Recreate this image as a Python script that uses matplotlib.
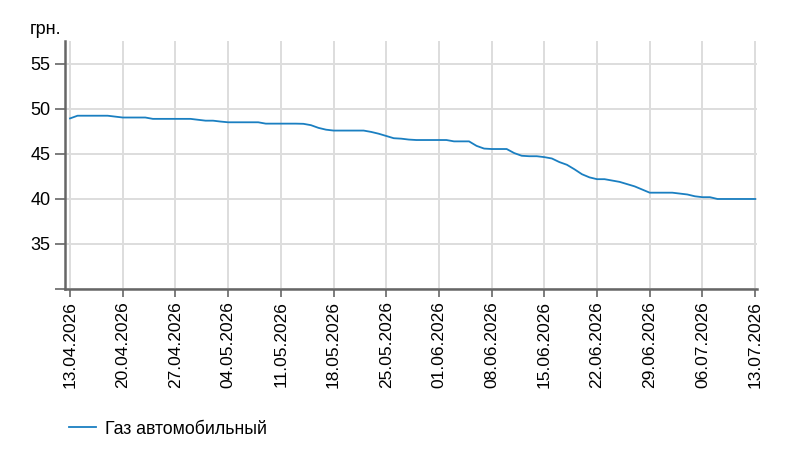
import numpy as np
import pandas as pd
import matplotlib.pyplot as plt
import matplotlib.dates as mdates

plt.rcParams['font.family'] = ['Liberation Sans', 'DejaVu Sans']

# daily price, грн., from 13.04.2026 to 13.07.2026
start_date = '2026-04-13'
prices = [
    48.95, 49.25, 49.25, 49.25, 49.25, 49.25, 49.15, 49.05, 49.05, 49.05,
    49.05, 48.9, 48.9, 48.9, 48.9, 48.9, 48.9, 48.8, 48.7, 48.7,
    48.6, 48.52, 48.52, 48.52, 48.52, 48.52, 48.37, 48.37, 48.37, 48.37,
    48.37, 48.35, 48.2, 47.9, 47.7, 47.6, 47.6, 47.6, 47.6, 47.6,
    47.45, 47.25, 47.0, 46.75, 46.7, 46.6, 46.55, 46.55, 46.55, 46.55,
    46.55, 46.4, 46.4, 46.4, 45.9, 45.6, 45.55, 45.55, 45.55, 45.1,
    44.8, 44.75, 44.75, 44.65, 44.5, 44.1, 43.8, 43.3, 42.75, 42.4,
    42.2, 42.2, 42.05, 41.9, 41.65, 41.4, 41.05, 40.7, 40.7, 40.7,
    40.7, 40.6, 40.5, 40.3, 40.2, 40.2, 40.0, 40.0, 40.0, 40.0,
    40.0, 40.0,
]
series_name = 'Газ автомобильный'
y_ticks = [30, 35, 40, 45, 50, 55]
y_labels = ['', '35', '40', '45', '50', '55']

dates = pd.date_range(start_date, periods=len(prices), freq='D')

fig = plt.figure(figsize=(8.05, 4.68), dpi=100)
ax = fig.add_axes([65 / 805, 1 - 289 / 468, 692 / 805, 248 / 468])

ax.plot(dates, prices, color='#1a7fc1', lw=1.3)

week_ticks = pd.date_range(start_date, periods=14, freq='7D')
ax.set_xticks(week_ticks)
ax.xaxis.set_major_formatter(mdates.DateFormatter('%d.%m.%Y'))
ax.set_xlim(dates[0] - pd.Timedelta(hours=16), dates[-1] + pd.Timedelta(hours=6))
ax.set_ylim(30, 57.55)
ax.set_yticks(y_ticks)
ax.set_yticklabels(y_labels)

for lbl in ax.get_xticklabels():
    lbl.set_rotation(90)

ax.tick_params(axis='both', color='#666666', width=1.2)
ax.tick_params(axis='y', labelsize=13, length=7)
ax.tick_params(axis='x', labelsize=12.5, length=6, pad=3)
ax.grid(True, color='#dddddd', lw=1.4)
ax.set_axisbelow(True)
for s in ['top', 'right']:
    ax.spines[s].set_visible(False)
for s in ['left', 'bottom']:
    ax.spines[s].set_color('#666666')
    ax.spines[s].set_linewidth(1.8)

fig.text(30 / 805, 1 - 30 / 468, 'грн.', fontsize=13, va='center', ha='left')

fig.legend([ax.lines[0]], [series_name], loc='center left',
           bbox_to_anchor=(53 / 805, 1 - 429 / 468), frameon=False,
           fontsize=12.8, handlelength=1.5, handletextpad=0.55)

fig.savefig('out.png', dpi=100)
